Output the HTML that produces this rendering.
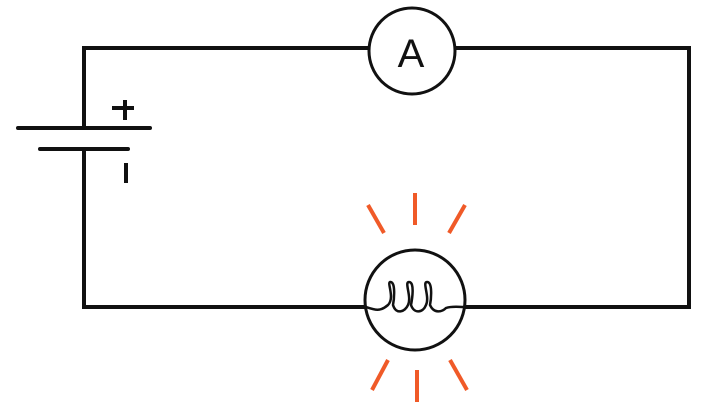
<!DOCTYPE html>
<html><head><meta charset="utf-8"><style>html,body{margin:0;padding:0;background:#fff}svg{display:block}</style></head>
<body>
<svg width="702" height="413" viewBox="0 0 702 413" xmlns="http://www.w3.org/2000/svg">
<g stroke="#111" fill="none" stroke-linecap="butt">
<!-- wires -->
<polyline points="84,108 84,48 369,48" stroke-width="4"/>
<polyline points="456,48 689,48 689,307 464,307" stroke-width="4"/>
<polyline points="84,149 84,307 366,307" stroke-width="4"/>
<!-- battery -->
<line x1="18" y1="128" x2="150" y2="128" stroke-width="4" stroke-linecap="round"/>
<line x1="40" y1="149" x2="128" y2="149" stroke-width="4" stroke-linecap="round"/>
<line x1="84" y1="108" x2="84" y2="128" stroke-width="4"/>
<line x1="112" y1="108" x2="134" y2="108" stroke-width="4"/>
<line x1="125" y1="100" x2="125" y2="120" stroke-width="4"/>
<line x1="126" y1="163" x2="126" y2="183" stroke-width="4"/>
<!-- ammeter -->
<circle cx="412" cy="51" r="43" stroke-width="3"/>
<!-- bulb -->
<circle cx="415" cy="300" r="50" stroke-width="3"/>
<path d="M366,307 C375,310 380,312 388,305 C395,298 387,283 390,282 C396,281 394,300 393,305 C396,315 405,312 408,305 C412,297 404,282 409,282 C415,282 412,300 411,305 C414,314 423,313 426,305 C430,297 422,282 427,282 C433,282 431,300 430,305 C434,314 442,312 446,308 C452,306 458,307 464,307" stroke-width="2.5"/>
</g>
<text x="411" y="67" font-family="Liberation Sans, sans-serif" font-size="40" text-anchor="middle" fill="#111">A</text>
<g stroke="#f05a28" stroke-width="4">
<line x1="415" y1="193" x2="415" y2="225"/>
<line x1="368" y1="205" x2="384" y2="233"/>
<line x1="465" y1="205" x2="449" y2="233"/>
<line x1="417" y1="370" x2="417" y2="402"/>
<line x1="388" y1="360" x2="372" y2="390"/>
<line x1="450" y1="360" x2="467" y2="390"/>
</g>
</svg>
</body></html>
